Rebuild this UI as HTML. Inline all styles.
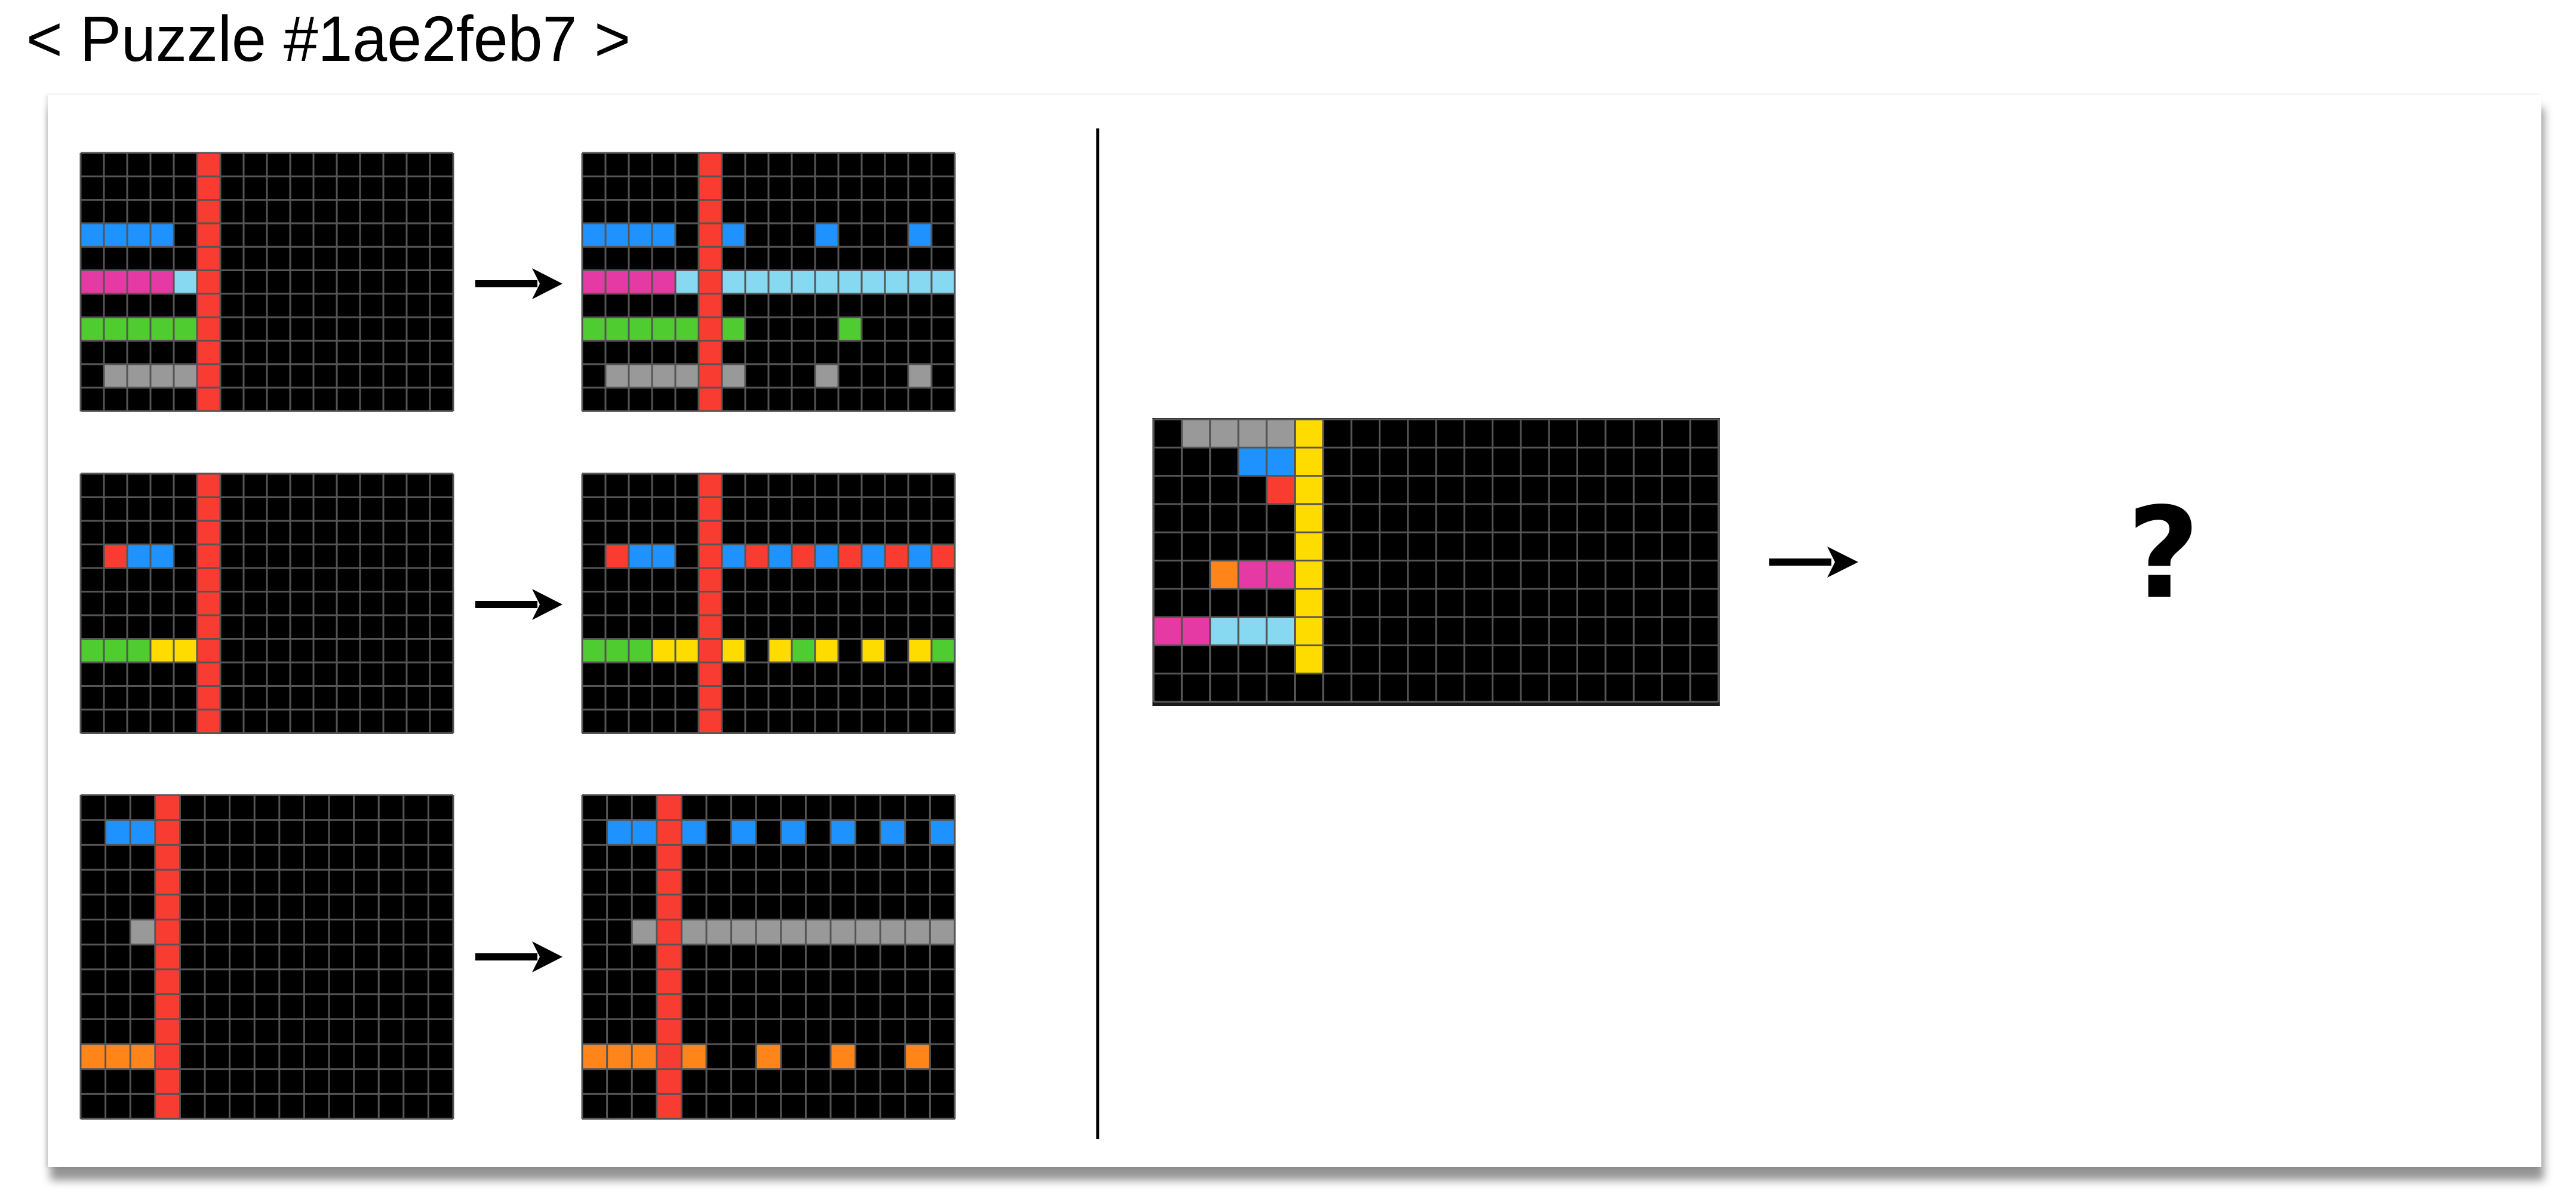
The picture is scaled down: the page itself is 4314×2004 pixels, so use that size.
<!DOCTYPE html>
<html><head><meta charset="utf-8">
<style>
html,body{margin:0;padding:0;background:#fff;}
body{width:4314px;height:2004px;overflow:hidden;position:relative;}
.panel{position:absolute;left:80px;top:159px;width:4176px;height:1795px;background:#fff;box-shadow:4px 22px 14px rgba(0,0,0,0.42),-3px 0 6px rgba(0,0,0,0.12);}
svg{position:absolute;left:0;top:0;}
</style></head>
<body>
<div class="panel"></div>
<svg width="4314" height="2004" viewBox="0 0 4314 2004" xmlns="http://www.w3.org/2000/svg">
<defs>
<path id="g1611" fill="none" stroke="#555" stroke-width="3" vector-effect="non-scaling-stroke" d="M0 0V11M1 0V11M2 0V11M3 0V11M4 0V11M5 0V11M6 0V11M7 0V11M8 0V11M9 0V11M10 0V11M11 0V11M12 0V11M13 0V11M14 0V11M15 0V11M16 0V11M0 0H16M0 1H16M0 2H16M0 3H16M0 4H16M0 5H16M0 6H16M0 7H16M0 8H16M0 9H16M0 10H16M0 11H16"/>
<path id="g1513" fill="none" stroke="#555" stroke-width="3" vector-effect="non-scaling-stroke" d="M0 0V13M1 0V13M2 0V13M3 0V13M4 0V13M5 0V13M6 0V13M7 0V13M8 0V13M9 0V13M10 0V13M11 0V13M12 0V13M13 0V13M14 0V13M15 0V13M0 0H15M0 1H15M0 2H15M0 3H15M0 4H15M0 5H15M0 6H15M0 7H15M0 8H15M0 9H15M0 10H15M0 11H15M0 12H15M0 13H15"/>
<path id="g2010" fill="none" stroke="#555" stroke-width="3" vector-effect="non-scaling-stroke" d="M0 0V10M1 0V10M2 0V10M3 0V10M4 0V10M5 0V10M6 0V10M7 0V10M8 0V10M9 0V10M10 0V10M11 0V10M12 0V10M13 0V10M14 0V10M15 0V10M16 0V10M17 0V10M18 0V10M19 0V10M20 0V10M0 0H20M0 1H20M0 2H20M0 3H20M0 4H20M0 5H20M0 6H20M0 7H20M0 8H20M0 9H20M0 10H20"/>
</defs>

<text x="44" y="102" font-family="Liberation Sans, sans-serif" font-size="108" textLength="1012" lengthAdjust="spacingAndGlyphs" fill="#000">&lt; Puzzle #1ae2feb7 &gt;</text>

<g transform="translate(135,256) scale(39,39.3)">
<rect width="16" height="11" fill="#000"/>
<rect x="5" y="0" width="1" height="11" fill="#F93C31"/>
<rect x="0" y="3" width="4" height="1" fill="#1E93FF"/>
<rect x="0" y="5" width="4" height="1" fill="#E53AA3"/>
<rect x="4" y="5" width="1" height="1" fill="#87D8F1"/>
<rect x="0" y="7" width="5" height="1" fill="#4FCC30"/>
<rect x="1" y="9" width="4" height="1" fill="#999999"/>
<use href="#g1611"/>
</g>
<g transform="translate(975,256) scale(39,39.3)">
<rect width="16" height="11" fill="#000"/>
<rect x="5" y="0" width="1" height="11" fill="#F93C31"/>
<rect x="0" y="3" width="4" height="1" fill="#1E93FF"/>
<rect x="6" y="3" width="1" height="1" fill="#1E93FF"/>
<rect x="10" y="3" width="1" height="1" fill="#1E93FF"/>
<rect x="14" y="3" width="1" height="1" fill="#1E93FF"/>
<rect x="0" y="5" width="4" height="1" fill="#E53AA3"/>
<rect x="4" y="5" width="1" height="1" fill="#87D8F1"/>
<rect x="6" y="5" width="10" height="1" fill="#87D8F1"/>
<rect x="0" y="7" width="5" height="1" fill="#4FCC30"/>
<rect x="6" y="7" width="1" height="1" fill="#4FCC30"/>
<rect x="11" y="7" width="1" height="1" fill="#4FCC30"/>
<rect x="1" y="9" width="4" height="1" fill="#999999"/>
<rect x="6" y="9" width="1" height="1" fill="#999999"/>
<rect x="10" y="9" width="1" height="1" fill="#999999"/>
<rect x="14" y="9" width="1" height="1" fill="#999999"/>
<use href="#g1611"/>
</g>

<g transform="translate(135,793) scale(39,39.5)">
<rect width="16" height="11" fill="#000"/>
<rect x="5" y="0" width="1" height="11" fill="#F93C31"/>
<rect x="1" y="3" width="1" height="1" fill="#F93C31"/>
<rect x="2" y="3" width="2" height="1" fill="#1E93FF"/>
<rect x="0" y="7" width="3" height="1" fill="#4FCC30"/>
<rect x="3" y="7" width="2" height="1" fill="#FFDC00"/>
<use href="#g1611"/>
</g>
<g transform="translate(975,793) scale(39,39.5)">
<rect width="16" height="11" fill="#000"/>
<rect x="5" y="0" width="1" height="11" fill="#F93C31"/>
<rect x="1" y="3" width="1" height="1" fill="#F93C31"/>
<rect x="2" y="3" width="2" height="1" fill="#1E93FF"/>
<rect x="6" y="3" width="10" height="1" fill="#F93C31"/>
<rect x="6" y="3" width="1" height="1" fill="#1E93FF"/>
<rect x="8" y="3" width="1" height="1" fill="#1E93FF"/>
<rect x="10" y="3" width="1" height="1" fill="#1E93FF"/>
<rect x="12" y="3" width="1" height="1" fill="#1E93FF"/>
<rect x="14" y="3" width="1" height="1" fill="#1E93FF"/>
<rect x="0" y="7" width="3" height="1" fill="#4FCC30"/>
<rect x="3" y="7" width="2" height="1" fill="#FFDC00"/>
<rect x="6" y="7" width="1" height="1" fill="#FFDC00"/>
<rect x="8" y="7" width="1" height="1" fill="#FFDC00"/>
<rect x="9" y="7" width="1" height="1" fill="#4FCC30"/>
<rect x="10" y="7" width="1" height="1" fill="#FFDC00"/>
<rect x="12" y="7" width="1" height="1" fill="#FFDC00"/>
<rect x="14" y="7" width="1" height="1" fill="#FFDC00"/>
<rect x="15" y="7" width="1" height="1" fill="#4FCC30"/>
<use href="#g1611"/>
</g>

<g transform="translate(135,1331) scale(41.6,41.7)">
<rect width="15" height="13" fill="#000"/>
<rect x="3" y="0" width="1" height="13" fill="#F93C31"/>
<rect x="1" y="1" width="2" height="1" fill="#1E93FF"/>
<rect x="2" y="5" width="1" height="1" fill="#999999"/>
<rect x="0" y="10" width="3" height="1" fill="#FF851B"/>
<use href="#g1513"/>
</g>
<g transform="translate(975,1331) scale(41.6,41.7)">
<rect width="15" height="13" fill="#000"/>
<rect x="3" y="0" width="1" height="13" fill="#F93C31"/>
<rect x="1" y="1" width="2" height="1" fill="#1E93FF"/>
<rect x="4" y="1" width="1" height="1" fill="#1E93FF"/>
<rect x="6" y="1" width="1" height="1" fill="#1E93FF"/>
<rect x="8" y="1" width="1" height="1" fill="#1E93FF"/>
<rect x="10" y="1" width="1" height="1" fill="#1E93FF"/>
<rect x="12" y="1" width="1" height="1" fill="#1E93FF"/>
<rect x="14" y="1" width="1" height="1" fill="#1E93FF"/>
<rect x="2" y="5" width="1" height="1" fill="#999999"/>
<rect x="4" y="5" width="11" height="1" fill="#999999"/>
<rect x="0" y="10" width="3" height="1" fill="#FF851B"/>
<rect x="4" y="10" width="1" height="1" fill="#FF851B"/>
<rect x="7" y="10" width="1" height="1" fill="#FF851B"/>
<rect x="10" y="10" width="1" height="1" fill="#FF851B"/>
<rect x="13" y="10" width="1" height="1" fill="#FF851B"/>
<use href="#g1513"/>
</g>

<rect x="1930" y="700" width="950" height="482" fill="#1a1a1a"/>
<g transform="translate(1932,702) scale(47.3,47.3)">
<rect width="20" height="10" fill="#000"/>
<rect x="5" y="0" width="1" height="9" fill="#FFDC00"/>
<rect x="1" y="0" width="4" height="1" fill="#999999"/>
<rect x="3" y="1" width="2" height="1" fill="#1E93FF"/>
<rect x="4" y="2" width="1" height="1" fill="#F93C31"/>
<rect x="2" y="5" width="1" height="1" fill="#FF851B"/>
<rect x="3" y="5" width="2" height="1" fill="#E53AA3"/>
<rect x="0" y="7" width="2" height="1" fill="#E53AA3"/>
<rect x="2" y="7" width="3" height="1" fill="#87D8F1"/>
<use href="#g2010"/>
</g>

<g fill="#000">
<rect x="796" y="469" width="104" height="12"/>
<polygon points="891,449 942,475 891,501 904,475"/>
<rect x="796" y="1006" width="104" height="12"/>
<polygon points="891,986 942,1012 891,1038 904,1012"/>
<rect x="796" y="1596" width="104" height="12"/>
<polygon points="891,1576 942,1602 891,1628 904,1602"/>
<rect x="2963" y="935" width="104" height="12"/>
<polygon points="3060,915 3112,941 3060,967 3073,941"/>
</g>

<rect x="1836" y="215" width="5" height="1692" fill="#000"/>

<text x="3623" y="999" text-anchor="middle" font-family="DejaVu Sans, sans-serif" font-weight="bold" font-size="210" fill="#000">?</text>
</svg>
</body></html>
